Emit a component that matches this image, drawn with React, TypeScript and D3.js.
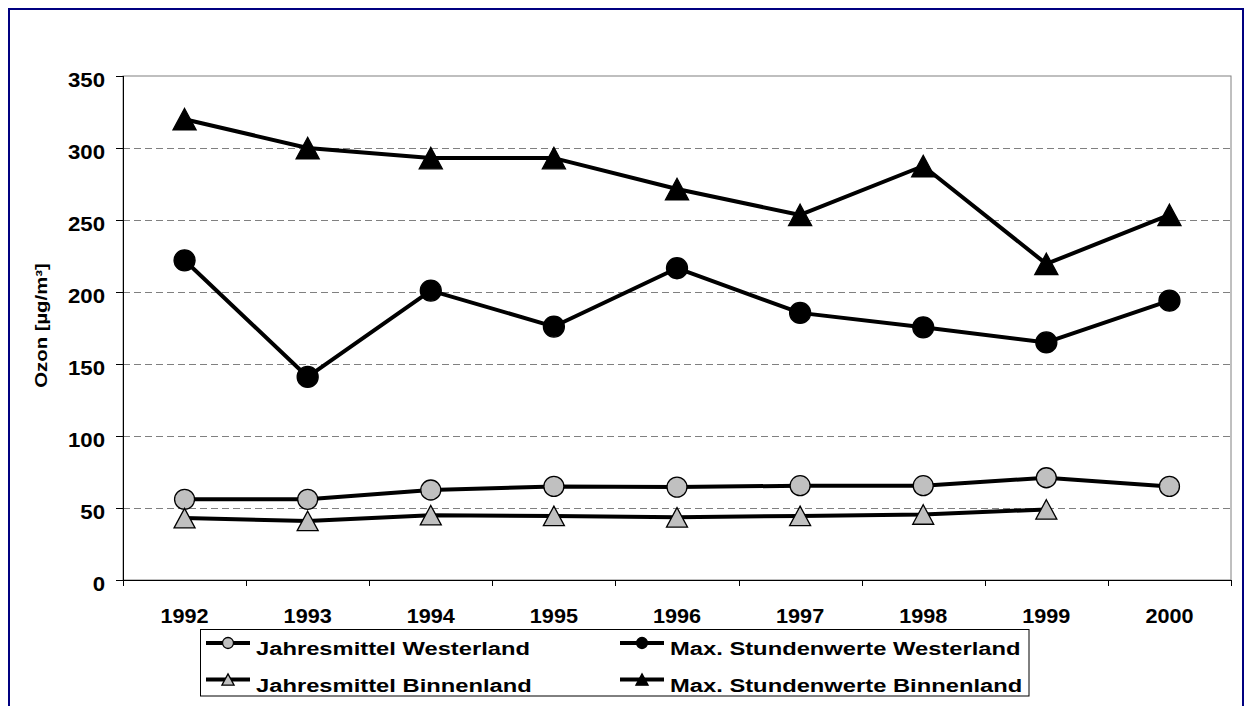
import React from 'react';
import * as d3 from 'd3';

const years = ['1992', '1993', '1994', '1995', '1996', '1997', '1998', '1999', '2000'];
const jahresmittelWesterland = [56, 56, 62.5, 65, 64.5, 65.5, 65.5, 71, 65];
const maxStundenWesterland = [222, 141, 201, 176, 216.5, 185.5, 175.5, 165, 194];
const jahresmittelBinnenland: (number | null)[] = [43, 41, 45, 44.5, 43.5, 44.5, 45.5, 49, null];
const maxStundenBinnenland = [320, 300, 293, 293, 271.5, 253.5, 287.5, 219.5, 253.5];
const yTicks = [0, 50, 100, 150, 200, 250, 300, 350];
const seriesNames = [
  'Jahresmittel Westerland',
  'Max. Stundenwerte Westerland',
  'Jahresmittel Binnenland',
  'Max. Stundenwerte Binnenland',
];

const W = 1246;
const H = 706;
const plot = { left: 123, right: 1231, top: 76, bottom: 580 };
const FONT = '"Liberation Sans", Arial, sans-serif';

const series = [
  { name: seriesNames[0], values: jahresmittelWesterland, shape: 'circle', fill: '#c0c0c0', r: 10 },
  { name: seriesNames[1], values: maxStundenWesterland, shape: 'circle', fill: '#000000', r: 10.5 },
  { name: seriesNames[2], values: jahresmittelBinnenland, shape: 'triangle', fill: '#c0c0c0', r: 10 },
  { name: seriesNames[3], values: maxStundenBinnenland, shape: 'triangle', fill: '#000000', r: 11 },
];

function trianglePath(cx: number, cy: number, w: number, h: number) {
  return `M${cx},${cy - h / 2}L${cx + w / 2},${cy + h / 2}L${cx - w / 2},${cy + h / 2}Z`;
}

function Marker({ shape, fill, cx, cy, size }: { shape: string; fill: string; cx: number; cy: number; size: number }) {
  if (shape === 'circle') {
    return <circle cx={cx} cy={cy} r={size} fill={fill} stroke="#000" strokeWidth={1.3} />;
  }
  return <path d={trianglePath(cx, cy, size * 2.1, size * 1.95)} fill={fill} stroke="#000" strokeWidth={1.3} strokeLinejoin="miter" />;
}

export default function App() {
  const x = d3.scaleBand<string>().domain(years).range([plot.left, plot.right]).padding(0);
  const y = d3.scaleLinear().domain([0, 350]).range([plot.bottom, plot.top]);
  const cx = (yr: string) => (x(yr) as number) + x.bandwidth() / 2;

  const line = d3
    .line<number | null>()
    .defined((d) => d !== null)
    .x((_, i) => cx(years[i]))
    .y((d) => y(d as number));

  const boundaries = years.map((yr) => x(yr) as number).concat([plot.right]);

  const legendCols = [206, 620];
  const legendRows = [643, 679.5];

  return (
    <svg width={W} height={H} style={{ position: 'absolute', left: 0, top: 0, background: '#fff' }} fontFamily={FONT}>
      <rect x={0} y={0} width={W} height={H} fill="#fff" />
      {/* outer frame */}
      <rect x={9} y={9} width={1234} height={720} fill="none" stroke="#000080" strokeWidth={2} />

      {/* plot area border */}
      <rect x={plot.left} y={plot.top} width={plot.right - plot.left} height={plot.bottom - plot.top} fill="none" stroke="#808080" strokeWidth={1} />

      {/* gridlines */}
      {yTicks.filter((t) => t > 0 && t < 350).map((t) => (
        <line key={`g${t}`} x1={plot.left} x2={plot.right} y1={Math.round(y(t)) + 0.5} y2={Math.round(y(t)) + 0.5} stroke="#808080" strokeWidth={1} strokeDasharray="7,4" />
      ))}

      {/* axes */}
      <line x1={plot.left + 0.5} x2={plot.left + 0.5} y1={plot.top} y2={plot.bottom} stroke="#000" strokeWidth={1} />
      <line x1={plot.left} x2={plot.right} y1={plot.bottom + 0.5} y2={plot.bottom + 0.5} stroke="#000" strokeWidth={1} />
      {yTicks.map((t) => (
        <line key={`yt${t}`} x1={116} x2={plot.left} y1={Math.round(y(t)) + 0.5} y2={Math.round(y(t)) + 0.5} stroke="#000" strokeWidth={1} />
      ))}
      {boundaries.map((b, i) => (
        <line key={`xt${i}`} x1={Math.round(b) + 0.5} x2={Math.round(b) + 0.5} y1={plot.bottom} y2={plot.bottom + 6} stroke="#000" strokeWidth={1} />
      ))}

      {/* y tick labels */}
      {yTicks.map((t) => (
        <text key={`yl${t}`} transform={`translate(105,${y(t) + 11}) scale(1.14,1)`} textAnchor="end" fontSize={19.5} fontWeight="bold" fill="#000">
          {t}
        </text>
      ))}

      {/* x tick labels */}
      {years.map((yr) => (
        <text key={`xl${yr}`} transform={`translate(${cx(yr)},623) scale(1.11,1)`} textAnchor="middle" fontSize={19.5} fontWeight="bold" fill="#000">
          {yr}
        </text>
      ))}

      {/* y title */}
      <text transform="translate(47,325.5) rotate(-90) scale(1.27,1)" textAnchor="middle" fontSize={16} fontWeight="bold" fill="#000">
        Ozon [µg/m³]
      </text>

      {/* series */}
      {series.map((s) => (
        <g key={s.name}>
          <path d={line(s.values) || ''} fill="none" stroke="#000" strokeWidth={4} strokeLinejoin="round" />
          {s.values.map((v, i) =>
            v === null ? null : (
              <Marker key={i} shape={s.shape} fill={s.fill} cx={cx(years[i])} cy={y(v)} size={s.r} />
            )
          )}
        </g>
      ))}

      {/* legend */}
      <rect x={200.5} y={629.5} width={828.5} height={66.5} fill="#fff" stroke="#000" strokeWidth={1} />
      {series.map((s, i) => {
        const lx = legendCols[i % 2];
        const ly = legendRows[Math.floor(i / 2)];
        return (
          <g key={`lg${i}`}>
            <line x1={lx} x2={lx + 44} y1={ly} y2={ly} stroke="#000" strokeWidth={4} />
            <Marker shape={s.shape} fill={s.fill} cx={lx + 22} cy={ly} size={s.shape === 'circle' ? 5.5 : 5.8} />
            <text transform={`translate(${lx + 50},${ly + 12}) scale(1.32,1)`} fontSize={18} fontWeight="bold" fill="#000">
              {s.name}
            </text>
          </g>
        );
      })}
    </svg>
  );
}
